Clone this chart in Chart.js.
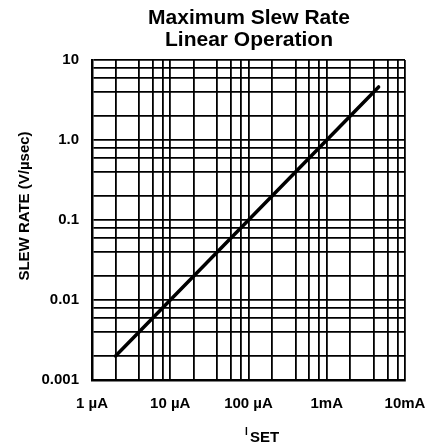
<!DOCTYPE html>
<html>
<head>
<meta charset="utf-8">
<script src="https://cdn.jsdelivr.net/npm/chart.js"></script>
<style>
    body { margin: 0; background: #fff; }
    canvas { display: block; }
</style>
</head>
<body>
<canvas id="slewChart" width="429" height="448"></canvas>
<script>
    // Grid: log decades with lines at 1, 2, 4, 6, 8 of each decade
    const xDecades = [1e-6, 1e-5, 1e-4, 1e-3];
    const yDecades = [0.001, 0.01, 0.1, 1];
    const gridSteps = [1, 2, 4, 6, 8];
    const xMin = 1e-6, xMax = 1e-2;
    const yMin = 0.001, yMax = 10;

    const xLabels = ['1 \u00b5A', '10 \u00b5A', '100 \u00b5A', '1mA', '10mA'];
    const yLabels = ['0.001', '0.01', '0.1', '1.0', '10'];

    // I_SET (A) vs slew rate (V/usec)
    const isetValues = [2e-6, 4.6e-3];
    const slewValues = [0.002, 4.6];

    function gridValues(decades, max) {
        const out = [];
        decades.forEach(d => gridSteps.forEach(s => out.push(d * s)));
        out.push(max);
        return out;
    }

    function decadeLabel(value, min, labels) {
        const k = Math.log10(value / min);
        return Math.abs(k - Math.round(k)) < 1e-6 ? labels[Math.round(k)] : '';
    }

    const tickFont = { family: '"Liberation Sans", Arial, sans-serif', size: 15, weight: 'bold' };

    const textPlugin = {
        id: 'textPlugin',
        afterDraw(chart) {
            const ctx = chart.ctx;
            ctx.save();
            ctx.fillStyle = '#000';
            ctx.textAlign = 'center';
            ctx.textBaseline = 'alphabetic';
            ctx.font = 'bold 21px "Liberation Sans", Arial, sans-serif';
            ctx.fillText('Maximum Slew Rate', 249, 24);
            ctx.fillText('Linear Operation', 249, 46);

            // y axis title
            ctx.save();
            ctx.translate(29, 206);
            ctx.rotate(-Math.PI / 2);
            ctx.font = 'bold 15px "Liberation Sans", Arial, sans-serif';
            ctx.fillText('SLEW RATE (V/\u00b5sec)', 0, 0);
            ctx.restore();

            // x axis title  I_SET
            ctx.textAlign = 'left';
            ctx.font = 'bold 10px "Liberation Sans", Arial, sans-serif';
            ctx.fillText('I', 245, 435);
            ctx.font = 'bold 15px "Liberation Sans", Arial, sans-serif';
            ctx.fillText('SET', 250, 442);
            ctx.restore();
        }
    };

    new Chart(document.getElementById('slewChart'), {
        type: 'scatter',
        data: {
            datasets: [{
                data: isetValues.map((x, i) => ({ x: x, y: slewValues[i] })),
                showLine: true,
                borderColor: '#000',
                borderWidth: 3.5,
                pointRadius: 0,
                borderCapStyle: 'round'
            }]
        },
        options: {
            responsive: false,
            animation: false,
            devicePixelRatio: 1,
            layout: { padding: { top: 60, right: 24, left: 0, bottom: 0 } },
            plugins: { legend: { display: false }, tooltip: { enabled: false } },
            scales: {
                x: {
                    type: 'logarithmic',
                    min: xMin,
                    max: xMax,
                    afterBuildTicks: s => { s.ticks = gridValues(xDecades, xMax).map(v => ({ value: v })); },
                    afterFit: s => { s.height = 68; s.paddingLeft = 0; s.paddingRight = 0; },
                    grid: { color: '#000', lineWidth: 1.8, drawTicks: false },
                    border: { color: '#000', width: 2.5 },
                    ticks: {
                        autoSkip: false,
                        maxRotation: 0,
                        padding: 15,
                        color: '#000',
                        font: tickFont,
                        callback: v => decadeLabel(v, xMin, xLabels)
                    }
                },
                y: {
                    type: 'logarithmic',
                    min: yMin,
                    max: yMax,
                    afterBuildTicks: s => { s.ticks = gridValues(yDecades, yMax).map(v => ({ value: v })); },
                    afterFit: s => { s.width = 92; s.paddingTop = 0; s.paddingBottom = 0; },
                    grid: { color: '#000', lineWidth: 1.8, drawTicks: false },
                    border: { color: '#000', width: 2.5 },
                    ticks: {
                        autoSkip: false,
                        padding: 13,
                        color: '#000',
                        font: tickFont,
                        callback: v => decadeLabel(v, yMin, yLabels)
                    }
                }
            }
        },
        plugins: [textPlugin]
    });
</script>
</body>
</html>
